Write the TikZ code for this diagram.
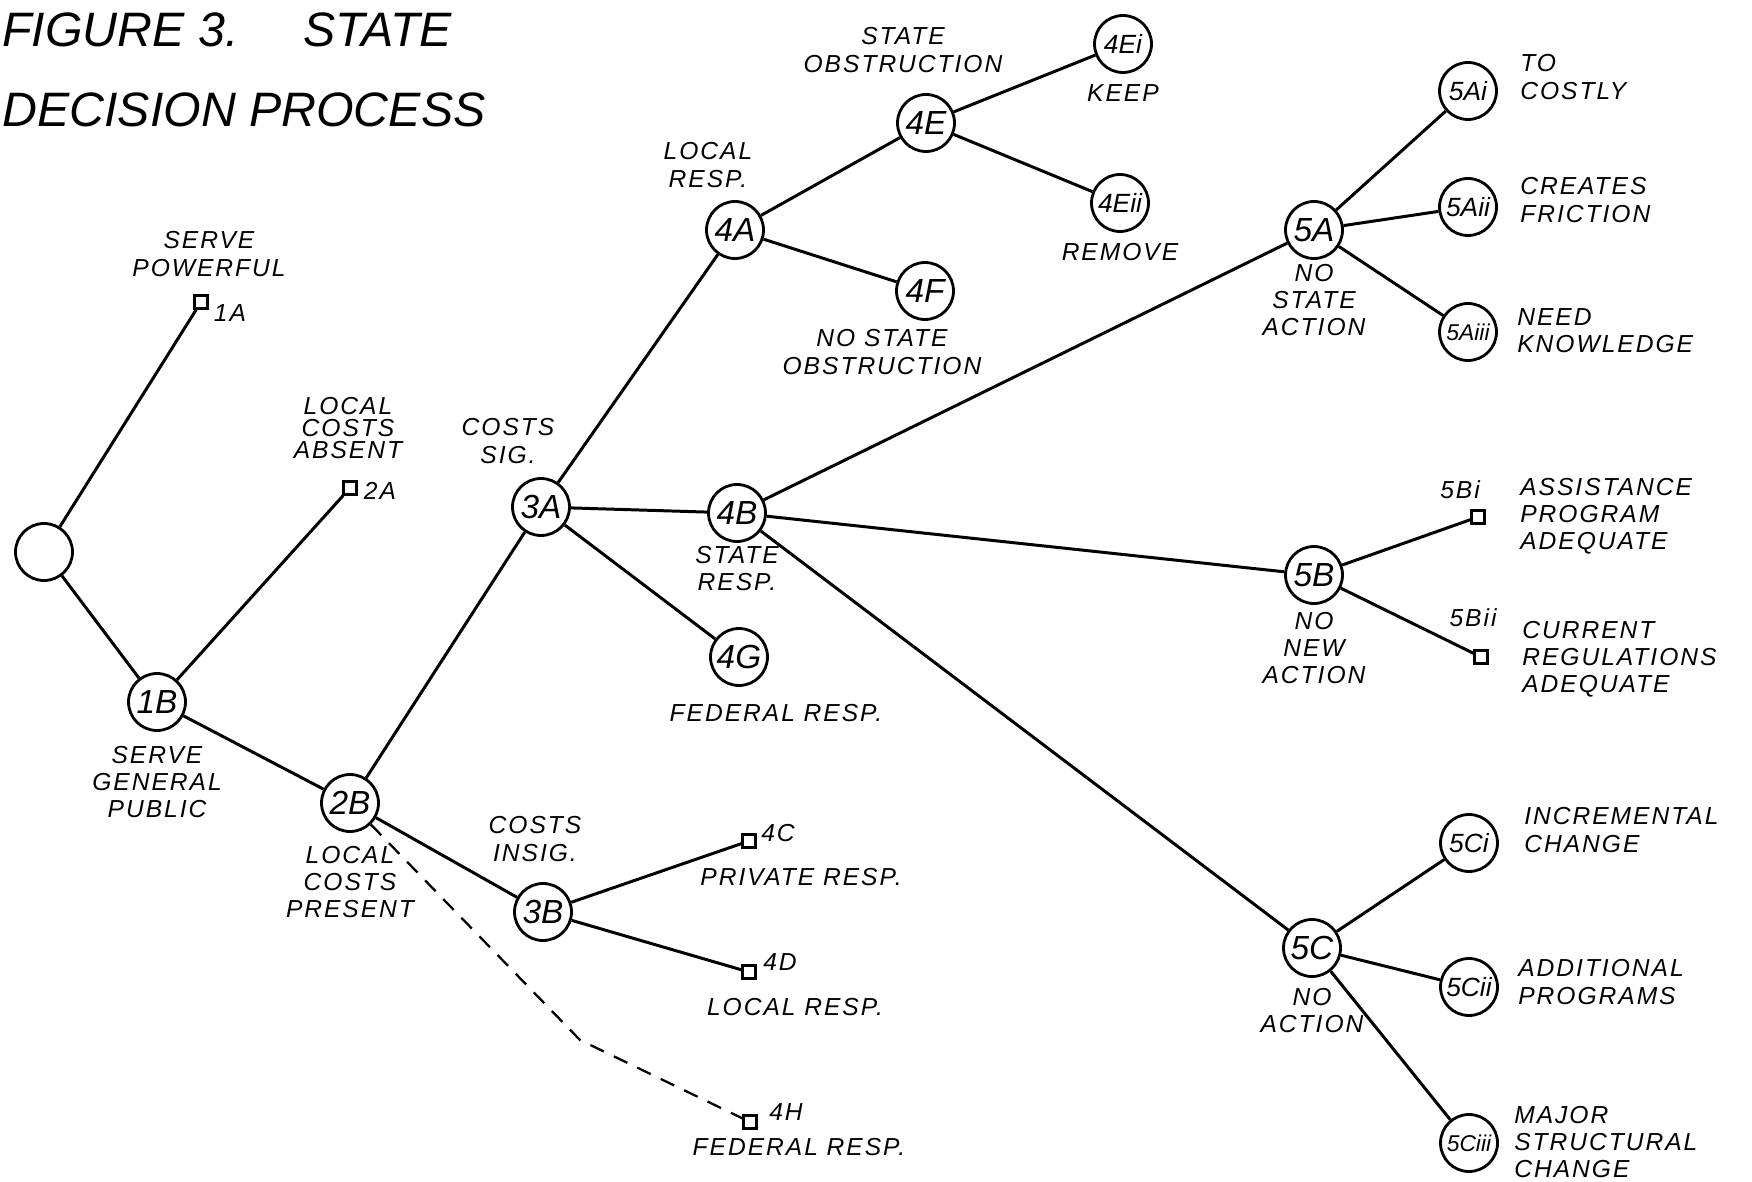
\documentclass[tikz,border=0pt]{standalone}
\usepackage{fontspec}
\setmainfont{Liberation Sans}
\newfontfamily\hand{Liberation Sans}[LetterSpace=8]
\usetikzlibrary{positioning}
\tikzset{
 dec/.style={circle,draw,line width=1.6pt,minimum size=1.14cm,inner sep=0pt,font=\itshape\fontsize{19}{19}\selectfont},
 decs/.style={dec,font=\itshape\fontsize{15}{15}\selectfont},
 decss/.style={dec,font=\itshape\fontsize{13}{13}\selectfont},
 leaf/.style={draw,line width=1.3pt,minimum size=0.26cm,inner sep=0pt},
 note/.style={font=\hand\itshape\fontsize{14}{15.5}\selectfont,align=center,inner sep=0pt},
 side/.style={note,anchor=west,align=left},
 ttl/.style={font=\itshape\fontsize{27.5}{30}\selectfont,inner sep=0pt,anchor=base west},
 link/.style={line width=1.7pt},
 dep/.style={line width=1.3pt,dash pattern=on 0.3cm off 0.22cm}
}
\begin{document}
\begin{tikzpicture}[x=0.02cm,y=-0.02cm]
\useasboundingbox (0,0) rectangle (1752,1182);
\node[ttl] (ttlA) at (2,47) {FIGURE 3.\hspace{1.3cm}STATE};
\node[ttl] (ttlB) at (2,127) {DECISION PROCESS};
\node[dec] (root) at (44,552) {};
\node[dec] (n1B) at (157,702) {1B};
\node[dec] (n2B) at (350,803) {2B};
\node[dec] (n3A) at (541,507) {3A};
\node[dec] (n3B) at (543,912) {3B};
\node[dec] (n4A) at (735,230) {4A};
\node[dec] (n4B) at (737,513) {4B};
\node[dec] (n4G) at (739,657) {4G};
\node[dec] (n4E) at (926,123) {4E};
\node[dec] (n4F) at (925,291) {4F};
\node[decs] (n4Ei) at (1123,44) {4Ei};
\node[decs] (n4Eii) at (1120,203) {4Eii};
\node[dec] (n5A) at (1314,230) {5A};
\node[dec] (n5B) at (1314,575) {5B};
\node[dec] (n5C) at (1312,948) {5C};
\node[decs] (n5Ai) at (1468,91) {5Ai};
\node[decs] (n5Aii) at (1468,207) {5Aii};
\node[decss] (n5Aiii) at (1468,332) {5Aiii};
\node[decs] (n5Ci) at (1469,843) {5Ci};
\node[decs] (n5Cii) at (1469,987) {5Cii};
\node[decss] (n5Ciii) at (1469,1143) {5Ciii};
\node[leaf] (n1A) at (201,302) {};
\node[leaf] (n2A) at (350,488) {};
\node[leaf] (n4C) at (749,841) {};
\node[leaf] (n4D) at (749,972) {};
\node[leaf] (n4H) at (750,1122) {};
\node[leaf] (n5Bi) at (1478,517) {};
\node[leaf] (n5Bii) at (1481,657) {};
\coordinate (bend) at (580,1040);
\node[note] (t1A) at (209,254) {SERVE\\POWERFUL};
\node[note] (i1A) at (230,313) {1A};
\node[note,text depth=0pt] (t2A) at (348,428) {LOCAL\\[-3pt]COSTS\\[-3pt]ABSENT};
\node[note] (i2A) at (380,491) {2A};
\node[note] (t3A) at (508,441) {COSTS\\SIG.};
\node[note,below=0.28cm of n1B] (t1B) {SERVE\\GENERAL\\PUBLIC};
\node[note,below=0.26cm of n2B] (t2B) {LOCAL\\COSTS\\PRESENT};
\node[note] (t3B) at (535,839) {COSTS\\INSIG.};
\node[note] (i4C) at (778,833) {4C};
\node[note] (t4C) at (801,877) {PRIVATE RESP.};
\node[note] (i4D) at (780,962) {4D};
\node[note] (t4D) at (795,1007) {LOCAL RESP.};
\node[note] (i4H) at (786,1112) {4H};
\node[note] (t4H) at (799,1147) {FEDERAL RESP.};
\node[note,below=0.06cm of n4B] (t4B) {STATE\\RESP.};
\node[note] (t4G) at (776,713) {FEDERAL RESP.};
\node[note] (t4A) at (708,165) {LOCAL\\RESP.};
\node[note] (t4E) at (903,50) {STATE\\OBSTRUCTION};
\node[note,below=0.2cm of n4Ei] (t4Ei) {KEEP};
\node[note,below=0.2cm of n4Eii] (t4Eii) {REMOVE};
\node[note] (t4F) at (882,352) {NO STATE\\OBSTRUCTION};
\node[note,below=0.08cm of n5A] (t5A) {NO\\STATE\\ACTION};
\node[side] (t5Ai) at (1520,77) {TO\\COSTLY};
\node[side] (t5Aii) at (1520,200) {CREATES\\FRICTION};
\node[side] (t5Aiii) at (1517,331) {NEED\\KNOWLEDGE};
\node[note] (i5Bi) at (1460,490) {5Bi};
\node[side] (t5Bi) at (1520,516) {ASSISTANCE\\PROGRAM\\ADEQUATE};
\node[note] (i5Bii) at (1473,618) {5Bii};
\node[side] (t5Bii) at (1522,659) {CURRENT\\REGULATIONS\\ADEQUATE};
\node[note,below=0.14cm of n5B] (t5B) {NO\\NEW\\ACTION};
\node[side] (t5Ci) at (1524,830) {INCREMENTAL\\CHANGE};
\node[side] (t5Cii) at (1518,982) {ADDITIONAL\\PROGRAMS};
\node[note,below=0.2cm of n5C] (t5C) {NO\\ACTION};
\node[side] (t5Ciii) at (1514,1142) {MAJOR\\STRUCTURAL\\CHANGE};
\foreach \x/\y in {root/n1A,root/n1B,n1B/n2A,n1B/n2B,n2B/n3A,n2B/n3B,n3A/n4A,n3A/n4B,n3A/n4G,n3B/n4C,n3B/n4D,n4A/n4E,n4A/n4F,n4E/n4Ei,n4E/n4Eii,n4B/n5A,n4B/n5B,n4B/n5C,n5A/n5Ai,n5A/n5Aii,n5A/n5Aiii,n5B/n5Bi,n5B/n5Bii,n5C/n5Ci,n5C/n5Cii,n5C/n5Ciii} \draw[link] (\x)--(\y);
\draw[dep] (n2B)--(bend)--(n4H);
\end{tikzpicture}
\end{document}
